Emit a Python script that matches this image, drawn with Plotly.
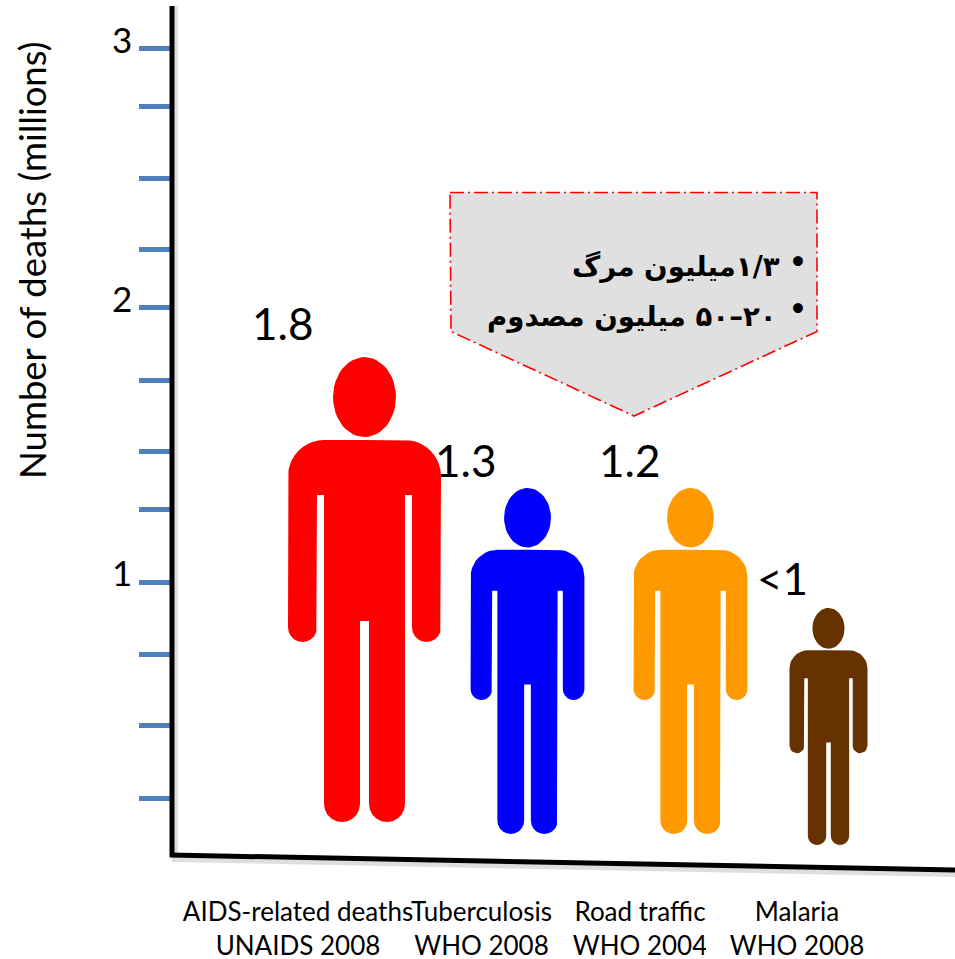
import math
import plotly.graph_objects as go

# ---- data ----
categories = ["AIDS-related deaths", "Tuberculosis", "Road traffic", "Malaria"]
sources = ["UNAIDS 2008", "WHO 2008", "WHO 2004", "WHO 2008"]
value_labels = ["1.8", "1.3", "1.2", "<1"]
figure_top = [1.844, 1.359, 1.359, 0.915]
figure_foot = [0.122, 0.078, 0.078, 0.037]
figure_colors = ["#ff0000", "#0000ff", "#ff9900", "#663300"]
y_minor_ticks = [0.211, 0.478, 0.744, 1.011, 1.278, 1.493, 1.759, 2.026, 2.241, 2.507, 2.774, 2.987]
y_major_labels = ["1", "2", "3"]
y_major_values = [1.011, 2.026, 2.987]
callout_lines = ["\u202B\u06F1/\u06F3\u0645\u06CC\u0644\u06CC\u0648\u0646 \u0645\u0631\u06AF\u202C",
                 "\u202B\u06F2\u06F0\u2013\u06F5\u06F0 \u0645\u06CC\u0644\u06CC\u0648\u0646 \u0645\u0635\u062F\u0648\u0645\u202C"]

# ---- layout constants (pixels of the 955x959 canvas) ----
W, H = 955, 959
PLOT_BOTTOM = 880
BASE_PX = 855
PX_PER_UNIT = 270.0
def val(p):
    return (BASE_PX - p) / PX_PER_UNIT

figure_centers = [364.5, 527.5, 690.5, 828.5]
label_centers = [298, 481.5, 640, 797]
AXIS_X = 172

# silhouette template in units of a 465-tall figure
def arc(cx, cy, rx, ry, a0, a1, n=10):
    return [(cx + rx * math.cos(math.radians(a0 + (a1 - a0) * i / n)),
             cy + ry * math.sin(math.radians(a0 + (a1 - a0) * i / n))) for i in range(n + 1)]

half = [(0, 83), (40.5, 83)]
half += arc(40.5, 119, 36, 36, -90, 0)
half += arc(62, 270.5, 14.5, 14.5, 0, 180)
half += [(47.5, 138), (40.5, 138)]
half += arc(22.5, 447, 18, 18, 0, 180)
half += [(4.5, 264), (0, 264)]
body = half + [(-x, y) for x, y in reversed(half)]
head = arc(0, 40, 31.5, 40, 0, 360, 48)

def person_trace(cx, top, foot, color):
    h_px = (top - foot) * PX_PER_UNIT
    k = h_px / 465.0
    xs, ys = [], []
    for part in (body, head):
        for x, y in part:
            xs.append(cx + x * k)
            ys.append(top - y / 465.0 * (top - foot))
        xs.append(None)
        ys.append(None)
    return go.Scatter(x=xs, y=ys, mode="lines", fill="toself", fillcolor=color,
                      line=dict(width=0, color=color), hoverinfo="skip", showlegend=False)

fig = go.Figure()

# callout
callout_x = [450, 817, 817, 634, 451, 450]
callout_y = [val(192.5), val(192.5), val(331.5), val(416), val(331.5), val(192.5)]
fig.add_trace(go.Scatter(x=callout_x, y=callout_y, mode="lines", fill="toself", fillcolor="#e0e0e0",
                         line=dict(color="#ff0000", width=1.6, dash="14px,4px,2px,4px"),
                         hoverinfo="skip", showlegend=False))

for cx, t, f, c in zip(figure_centers, figure_top, figure_foot, figure_colors):
    fig.add_trace(person_trace(cx, t, f, c))

# axes drawn as slanted/partial lines with soft shadow
shadow = dict(color="rgba(0,0,0,0.13)", width=6)
fig.add_trace(go.Scatter(x=[AXIS_X, W], y=[val(859), val(874)], mode="lines", line=shadow,
                         hoverinfo="skip", showlegend=False))
fig.add_trace(go.Scatter(x=[AXIS_X + 3, AXIS_X + 3], y=[val(855), val(6)], mode="lines", line=shadow,
                         hoverinfo="skip", showlegend=False))
fig.add_trace(go.Scatter(x=[AXIS_X, AXIS_X], y=[val(857), val(6)], mode="lines",
                         line=dict(color="#000000", width=5), hoverinfo="skip", showlegend=False))
fig.add_trace(go.Scatter(x=[AXIS_X - 2, W], y=[val(855), val(870)], mode="lines",
                         line=dict(color="#000000", width=5), hoverinfo="skip", showlegend=False))

FONT = "Lato, Carlito, 'Open Sans', sans-serif"
ann = []
# value labels
for txt, x, p in zip(value_labels, [282, 465.5, 629, 782], [323, 460, 460, 578]):
    ann.append(dict(x=x, y=val(p), text=txt, showarrow=False, xanchor="center", yanchor="middle",
                    font=dict(family=FONT, size=44, color="#000000")))
# y labels
for txt, v in zip(y_major_labels, y_major_values):
    ann.append(dict(x=122, y=v, text=txt, showarrow=False, xanchor="center", yanchor="middle", yshift=10,
                    font=dict(family=FONT, size=35, color="#000000")))
# y title
ann.append(dict(x=32, y=val(260), text="Number of deaths (millions)", textangle=-90, showarrow=False,
                xanchor="center", yanchor="middle", font=dict(family=FONT, size=36.5, color="#000000")))
# callout text
for txt, p, xr in zip(callout_lines, [266, 316], [782, 779]):
    ann.append(dict(x=xr, y=val(p), text="<b>%s</b>" % txt, showarrow=False, xanchor="right", yanchor="middle",
                    font=dict(family="'DejaVu Sans'", size=27.6, color="#000000")))
for p in [262, 309]:
    ann.append(dict(x=798, y=val(p), text="<b>\u2022</b>", showarrow=False, xanchor="center", yanchor="middle",
                    font=dict(family="'DejaVu Sans'", size=28, color="#000000")))

fig.update_layout(
    width=W, height=H, autosize=False,
    margin=dict(l=0, r=0, t=0, b=H - PLOT_BOTTOM, pad=0, autoexpand=False),
    paper_bgcolor="#ffffff", plot_bgcolor="#ffffff",
    showlegend=False,
    annotations=ann,
    xaxis=dict(range=[0, W], showgrid=False, zeroline=False, showline=False, ticks="outside", automargin=False,
               ticklen=1, tickcolor="rgba(0,0,0,0)", tickangle=0, ticklabelstandoff=8,
               tickmode="array", tickvals=label_centers,
               ticktext=["%s<br>%s" % (a, b) for a, b in zip(categories, sources)],
               tickfont=dict(family=FONT, size=26, color="#000000"), fixedrange=True),
    yaxis=dict(range=[val(PLOT_BOTTOM), val(0)], anchor="free", position=AXIS_X / W, showgrid=False,
               zeroline=False, showline=False, ticks="outside", ticklen=33, tickwidth=5, automargin=False,
               tickcolor="#4f81bd", tickmode="array", tickvals=y_minor_ticks, showticklabels=False,
               layer="below traces", fixedrange=True),
    shapes=[dict(type="rect", xref="x", yref="paper", x0=706, x1=712, y0=-0.085, y1=-0.004,
                 fillcolor="#ffffff", line=dict(width=0), layer="above")],
)
fig.write_html("out.html", post_script="document.body.style.margin='0';", config={"displayModeBar": False})
